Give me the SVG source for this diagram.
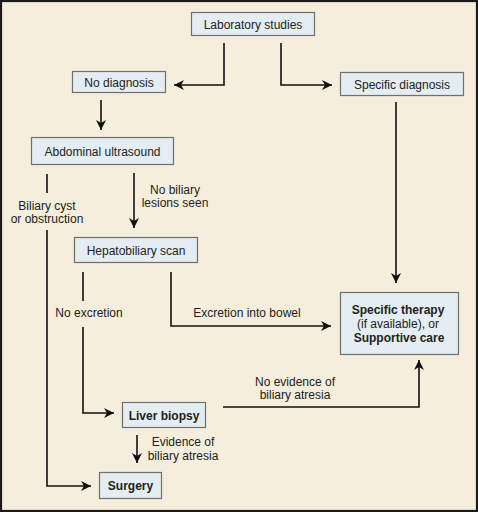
<svg xmlns="http://www.w3.org/2000/svg" width="478" height="512" viewBox="0 0 478 512">
<style>
.box{fill:#e4edf1;stroke:#707070;stroke-width:1.2}
.t{font-family:"Liberation Sans",Arial,sans-serif;font-size:12px;fill:#222;text-anchor:middle}
.b{font-weight:bold}
.ln{fill:none;stroke:#111;stroke-width:1.6}
</style>
<defs>
<marker id="ah" viewBox="0 0 10 10" refX="10" refY="5" markerWidth="10" markerHeight="10" markerUnits="userSpaceOnUse" orient="auto">
<path d="M0,0 L10,5 L0,10 L3,5 Z" fill="#111"/>
</marker>
</defs>
<rect x="0" y="0" width="478" height="512" fill="#f5eedd"/>
<rect x="1" y="1" width="476" height="510" fill="none" stroke="#1a1a1a" stroke-width="2.2"/>

<g id="connectors">
<path class="ln" d="M224,43 V85 H174" marker-end="url(#ah)"/>
<path class="ln" d="M281,43 V85 H332" marker-end="url(#ah)"/>
<path class="ln" d="M101,100 V130" marker-end="url(#ah)"/>
<path class="ln" d="M396,102 V283" marker-end="url(#ah)"/>
<path class="ln" d="M47,174 V193"/>
<path class="ln" d="M47,230 V486 H91" marker-end="url(#ah)"/>
<path class="ln" d="M134,173 V228" marker-end="url(#ah)"/>
<path class="ln" d="M83,272 V301"/>
<path class="ln" d="M83,327 V413 H114" marker-end="url(#ah)"/>
<path class="ln" d="M171,272 V326 H331" marker-end="url(#ah)"/>
<path class="ln" d="M137,435 V463" marker-end="url(#ah)"/>
<path class="ln" d="M223,407 H419 V360" marker-end="url(#ah)"/>
<text class="t" x="175" y="194">No biliary</text>
<text class="t" x="175" y="207">lesions seen</text>
<text class="t" x="47" y="210">Biliary cyst</text>
<text class="t" x="47" y="223">or obstruction</text>
<text class="t" x="89" y="317">No excretion</text>
<text class="t" x="247" y="317">Excretion into bowel</text>
<text class="t" x="295" y="386">No evidence of</text>
<text class="t" x="295" y="399">biliary atresia</text>
<text class="t" x="183" y="446">Evidence of</text>
<text class="t" x="183" y="460">biliary atresia</text>
</g>

<g id="lab">
<rect class="box" x="191.5" y="12.5" width="123" height="23"/>
<text class="t" x="253" y="28.5">Laboratory studies</text>
</g>
<g id="nodiag">
<rect class="box" x="72.5" y="71.5" width="93" height="21"/>
<text class="t" x="119" y="86.5">No diagnosis</text>
</g>
<g id="specdiag">
<rect class="box" x="340.5" y="72.5" width="123" height="23"/>
<text class="t" x="402" y="88.5">Specific diagnosis</text>
</g>
<g id="ultra">
<rect class="box" x="31.5" y="137.5" width="142" height="27"/>
<text class="t" x="102.5" y="155.5">Abdominal ultrasound</text>
</g>
<g id="hepato">
<rect class="box" x="74.5" y="237.5" width="123" height="25"/>
<text class="t" x="136" y="254.5">Hepatobiliary scan</text>
</g>
<g id="therapy">
<rect class="box" x="340.5" y="292.5" width="118" height="62"/>
<text class="t b" x="398" y="314">Specific therapy</text>
<text class="t" x="398" y="328">(if available), or</text>
<text class="t b" x="399" y="342">Supportive care</text>
</g>
<g id="biopsy">
<rect class="box" x="122.5" y="402.5" width="83" height="25"/>
<text class="t b" x="164" y="419.5">Liver biopsy</text>
</g>
<g id="surgery">
<rect class="box" x="99.5" y="472.5" width="62" height="26"/>
<text class="t b" x="130.5" y="489.5">Surgery</text>
</g>
</svg>
